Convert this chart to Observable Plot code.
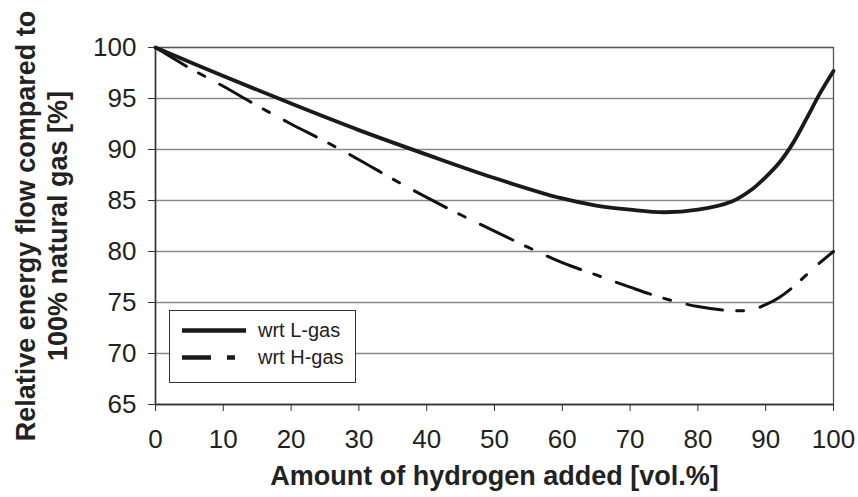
<!DOCTYPE html>
<html>
<head>
<meta charset="utf-8">
<script src="https://cdn.jsdelivr.net/npm/d3@7"></script>
<script src="https://cdn.jsdelivr.net/npm/@observablehq/plot@0.6"></script>
<style>
  html, body { margin: 0; padding: 0; background: #fff; }
  #wrap { position: relative; width: 858px; height: 497px; font-family: "Liberation Sans", Arial, sans-serif; }
  #legend { position: absolute; left: 169px; top: 310px; width: 185px; height: 71px; border: 1.5px solid #333; background: #fff; box-sizing: content-box; }
  #legend svg { position: absolute; left: 0; top: 0; }
  #legend .lab { position: absolute; left: 88px; font-size: 20px; color: #222; line-height: 1; }
</style>
</head>
<body>
<div id="wrap"></div>
<script>
// Data
const hydrogen_L = [0, 10, 20, 30, 40, 50, 60, 65, 70, 75, 80, 85, 88, 90, 92, 94, 96, 98, 100];
const flow_L     = [100, 97.2, 94.5, 91.9, 89.5, 87.2, 85.2, 84.5, 84.1, 83.85, 84.1, 84.9, 86.1, 87.3, 88.7, 90.6, 93.0, 95.5, 97.7];
const hydrogen_H = [0, 5, 10, 15, 20, 25, 30, 35, 40, 45, 50, 55, 60, 65, 70, 75, 80, 85, 88, 90, 92, 94, 96, 98, 100];
const flow_H     = [100, 98.0, 96.2, 94.3, 92.5, 90.8, 89.0, 87.1, 85.3, 83.6, 82.0, 80.4, 78.9, 77.7, 76.5, 75.4, 74.6, 74.2, 74.3, 74.8, 75.5, 76.5, 77.7, 78.9, 80.0];
const seriesNames = ["wrt L-gas", "wrt H-gas"];
const xTicks = [0, 10, 20, 30, 40, 50, 60, 70, 80, 90, 100];
const yTicks = [65, 70, 75, 80, 85, 90, 95, 100];
const xTitle = "Amount of hydrogen added [vol.%]";
const yTitle = "Relative energy flow compared to\n100% natural gas [%]";

const dataL = hydrogen_L.map((x, i) => ({x, y: flow_L[i]}));
const dataH = hydrogen_H.map((x, i) => ({x, y: flow_H[i]}));

const chart = Plot.plot({
  width: 858,
  height: 497,
  marginLeft: 155,
  marginRight: 25,
  marginTop: 47,
  marginBottom: 93,
  style: { fontFamily: "'Liberation Sans', Arial, sans-serif", color: "#222", background: "#fff" },
  x: { domain: [0, 100] },
  y: { domain: [65, 100] },
  marks: [
    Plot.gridY(yTicks, { stroke: "#8a8a8a", strokeOpacity: 1, strokeWidth: 1.3 }),
    Plot.frame({ stroke: "#555", strokeWidth: 1.3 }),
    Plot.axisX(xTicks, { tickSize: 7, tickPadding: 18, fontSize: 26, label: null, stroke: "#333", fill: "#222" }),
    Plot.axisY(yTicks, { tickSize: 7, tickPadding: 12, fontSize: 26, label: null, stroke: "#333", fill: "#222" }),
    Plot.ruleX([0], { stroke: "#333", strokeWidth: 1.5 }),
    Plot.ruleY([65], { stroke: "#333", strokeWidth: 1.5 }),
    Plot.line(dataH, { x: "x", y: "y", curve: "catmull-rom", stroke: "#111", strokeWidth: 3, strokeDasharray: "36,14,7,17" }),
    Plot.line(dataL, { x: "x", y: "y", curve: "catmull-rom", stroke: "#1a1a1a", strokeWidth: 3.8 }),
    Plot.text([xTitle], { frameAnchor: "bottom", dy: 80, fontSize: 27, fontWeight: "bold", fill: "#222" }),
    Plot.text([yTitle], { frameAnchor: "left", textAnchor: "middle", dx: -115, rotate: -90, fontSize: 27, fontWeight: "bold", lineHeight: 1.2, fill: "#222" })
  ]
});

const wrap = document.getElementById("wrap");
wrap.appendChild(chart);

// Legend (overlay inside plot area)
const legend = document.createElement("div");
legend.id = "legend";
legend.innerHTML = `
  <svg width="185" height="71">
    <line x1="12" x2="76" y1="19.5" y2="19.5" stroke="#1a1a1a" stroke-width="4.5"/>
    <line x1="12" x2="41" y1="46.5" y2="46.5" stroke="#1a1a1a" stroke-width="4.5"/>
    <line x1="57" x2="65" y1="46.5" y2="46.5" stroke="#1a1a1a" stroke-width="4.5"/>
  </svg>
  <div class="lab" style="top:9px">${seriesNames[0]}</div>
  <div class="lab" style="top:36px">${seriesNames[1]}</div>`;
wrap.appendChild(legend);
</script>
</body>
</html>
